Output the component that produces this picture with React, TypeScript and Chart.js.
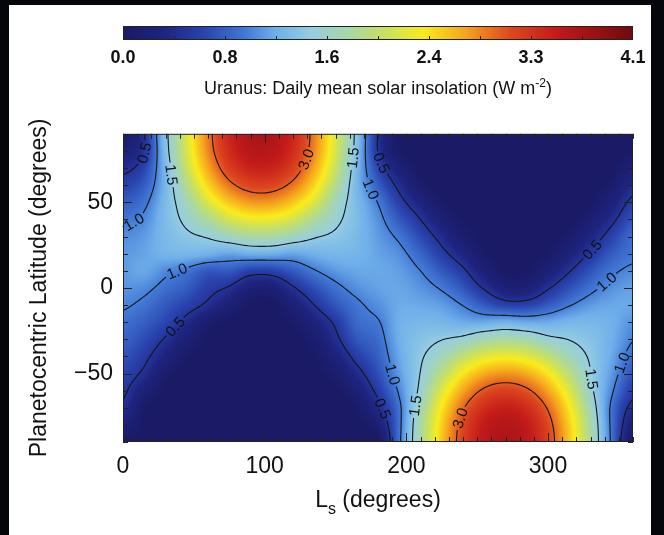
import React, { useEffect, useRef } from 'react';
import { Chart, registerables } from 'chart.js';

Chart.register(...registerables);

const FONT = '"Liberation Sans", Arial, Helvetica, sans-serif';

// Solar longitude of each grid column (degrees)
const lsColumns = [0, 15, 30, 45, 60, 75, 90, 105, 120, 135, 150, 165, 180, 195, 210, 225, 240, 255, 270, 285, 300, 315, 330, 345, 360];
// Planetocentric latitude of each grid row (degrees), north first
const latRows = [90, 80, 70, 60, 50, 40, 30, 20, 10, 0, -10, -20, -30, -40, -50, -60, -70, -80, -90];

// Daily mean insolation (W m^-2) along each latitude row, one value per Ls column
const insolN90 = [0, 0.48, 1.40, 2.22, 2.89, 3.37, 3.62, 3.62, 3.37, 2.89, 2.22, 1.40, 0.48, 0, 0, 0, 0, 0, 0, 0, 0, 0, 0, 0, 0];
const insolN80 = [0.22, 0.49, 1.37, 2.19, 2.85, 3.32, 3.56, 3.56, 3.32, 2.85, 2.19, 1.37, 0.49, 0.04, 0, 0, 0, 0, 0, 0, 0, 0, 0, 0, 0.03];
const insolN70 = [0.42, 0.65, 1.31, 2.09, 2.72, 3.17, 3.40, 3.40, 3.17, 2.72, 2.09, 1.31, 0.65, 0.22, 0, 0, 0, 0, 0, 0, 0, 0, 0, 0, 0.20];
const insolN60 = [0.62, 0.80, 1.29, 1.92, 2.51, 2.92, 3.13, 3.13, 2.92, 2.51, 1.92, 1.29, 0.82, 0.42, 0.10, 0, 0, 0, 0, 0, 0, 0, 0, 0.08, 0.39];
const insolN50 = [0.80, 0.94, 1.32, 1.72, 2.22, 2.58, 2.77, 2.77, 2.58, 2.22, 1.72, 1.32, 0.99, 0.60, 0.30, 0.04, 0, 0, 0, 0, 0, 0, 0.02, 0.25, 0.57];
const insolN40 = [0.95, 1.05, 1.33, 1.58, 1.86, 2.17, 2.32, 2.32, 2.17, 1.86, 1.58, 1.33, 1.08, 0.78, 0.50, 0.20, 0.02, 0, 0, 0, 0, 0, 0.15, 0.43, 0.74];
const insolN30 = [1.06, 1.13, 1.31, 1.44, 1.53, 1.69, 1.81, 1.81, 1.69, 1.53, 1.44, 1.31, 1.13, 0.95, 0.68, 0.40, 0.12, 0, 0, 0, 0, 0.08, 0.33, 0.62, 0.89];
const insolN20 = [1.12, 1.17, 1.27, 1.29, 1.25, 1.18, 1.24, 1.24, 1.18, 1.25, 1.29, 1.27, 1.17, 1.07, 0.85, 0.58, 0.32, 0.03, 0, 0, 0.03, 0.26, 0.53, 0.79, 0.94];
const insolN10 = [1.13, 1.19, 1.06, 0.95, 0.78, 0.79, 0.63, 0.63, 0.79, 0.98, 1.12, 1.19, 1.19, 1.14, 1.00, 0.78, 0.55, 0.21, 0, 0, 0.21, 0.48, 0.74, 0.95, 1.05];
const insolEq = [1.10, 1.06, 0.92, 0.80, 0.60, 0.47, 0.22, 0.22, 0.47, 0.72, 0.93, 1.08, 1.16, 1.18, 1.10, 0.97, 0.76, 0.47, 0.22, 0.22, 0.47, 0.72, 0.93, 1.08, 1.16];
const insolS10 = [1.03, 0.94, 0.78, 0.63, 0.44, 0.21, 0, 0, 0.21, 0.50, 0.76, 0.95, 1.08, 1.20, 1.19, 1.14, 0.99, 0.79, 0.63, 0.63, 0.79, 0.98, 1.12, 1.19, 1.19];
const insolS20 = [0.93, 0.82, 0.66, 0.40, 0.13, 0, 0, 0, 0.05, 0.28, 0.55, 0.88, 0.98, 1.23, 1.29, 1.28, 1.21, 1.20, 1.25, 1.20, 1.21, 1.28, 1.29, 1.23, 1.10];
const insolS30 = [0.84, 0.70, 0.47, 0.20, 0, 0, 0, 0, 0, 0.12, 0.43, 0.76, 0.90, 1.23, 1.39, 1.49, 1.58, 1.76, 1.82, 1.76, 1.58, 1.49, 1.39, 1.23, 1.01];
const insolS40 = [0.74, 0.57, 0.29, 0.05, 0, 0, 0, 0, 0, 0.03, 0.27, 0.59, 0.82, 1.19, 1.46, 1.70, 2.03, 2.26, 2.34, 2.26, 2.03, 1.70, 1.46, 1.19, 0.90];
const insolS50 = [0.64, 0.44, 0.11, 0, 0, 0, 0, 0, 0, 0, 0.11, 0.40, 0.72, 1.13, 1.51, 1.98, 2.42, 2.70, 2.79, 2.70, 2.42, 1.98, 1.51, 1.13, 0.75];
const insolS60 = [0.55, 0.22, 0, 0, 0, 0, 0, 0, 0, 0, 0, 0.22, 0.58, 1.04, 1.58, 2.23, 2.73, 3.05, 3.16, 3.05, 2.73, 2.23, 1.58, 1.04, 0.59];
const insolS70 = [0.45, 0.05, 0, 0, 0, 0, 0, 0, 0, 0, 0, 0.05, 0.40, 0.94, 1.71, 2.42, 2.97, 3.31, 3.43, 3.31, 2.97, 2.42, 1.71, 0.94, 0.40];
const insolS80 = [0.25, 0, 0, 0, 0, 0, 0, 0, 0, 0, 0, 0, 0.20, 0.93, 1.80, 2.54, 3.11, 3.47, 3.59, 3.47, 3.11, 2.54, 1.80, 0.93, 0.20];
const insolS90 = [0, 0, 0, 0, 0, 0, 0, 0, 0, 0, 0, 0, 0, 0.94, 1.82, 2.58, 3.16, 3.52, 3.65, 3.52, 3.16, 2.58, 1.82, 0.94, 0];

const insolationRows = [
  insolN90, insolN80, insolN70, insolN60, insolN50, insolN40, insolN30, insolN20, insolN10,
  insolEq,
  insolS10, insolS20, insolS30, insolS40, insolS50, insolS60, insolS70, insolS80, insolS90,
];

const contourLevels = [0.5, 1.0, 1.5, 3.0];

// Hand-picked spots for the contour labels: [level, Ls, latitude]
const contourLabelSpots = [
  [0.5, 10, 80], [1.0, 8, 38], [1.5, 34, 66], [3.0, 126, 76], [1.5, 162, 76],
  [0.5, 180, 72], [1.0, 176, 58], [1.0, 38, 10], [0.5, 36, -22],
  [0.5, 329, 24], [1.0, 341, 4],
  [1.0, 193, -50], [0.5, 190, -68], [1.5, 208, -69], [3.0, 234, -75],
  [1.5, 333, -53], [1.0, 350, -43],
];

const lsTicks = [0, 100, 200, 300];
const latTicks = [-50, 0, 50];

const colorbarMax = 4.08;
const colorbarTicks = [0, 0.816, 1.632, 2.448, 3.264, 4.08];
const colorbarTickLabels = ['0.0', '0.8', '1.6', '2.4', '3.3', '4.1'];

// blue -> cyan -> yellow -> red colour table
const colorStops = [
  [0.00, 26, 26, 102],
  [0.08, 30, 36, 128],
  [0.16, 42, 68, 176],
  [0.24, 66, 122, 214],
  [0.30, 112, 176, 234],
  [0.37, 150, 206, 226],
  [0.45, 172, 216, 160],
  [0.52, 204, 226, 92],
  [0.59, 250, 236, 28],
  [0.67, 246, 166, 30],
  [0.76, 222, 72, 30],
  [0.85, 196, 26, 26],
  [1.00, 112, 10, 16],
];

function colorFor(t: number): number[] {
  const v = Math.min(1, Math.max(0, t));
  for (let k = 1; k < colorStops.length; k++) {
    const a = colorStops[k - 1], b = colorStops[k];
    if (v <= b[0]) {
      const f = (v - a[0]) / (b[0] - a[0]);
      return [a[1] + (b[1] - a[1]) * f, a[2] + (b[2] - a[2]) * f, a[3] + (b[3] - a[3]) * f];
    }
  }
  const l = colorStops[colorStops.length - 1];
  return [l[1], l[2], l[3]];
}

function catmull(p0: number, p1: number, p2: number, p3: number, t: number) {
  return p1 + 0.5 * t * (p2 - p0 + t * (2 * p0 - 5 * p1 + 4 * p2 - p3 + t * (3 * (p1 - p2) + p3 - p0)));
}

// Smooth (Catmull-Rom) reading of the gridded field at any (Ls, latitude)
function sampleField(ls: number, lat: number) {
  const nx = lsColumns.length, ny = latRows.length;
  const clampI = (i: number) => Math.min(nx - 1, Math.max(0, i));
  const clampJ = (j: number) => Math.min(ny - 1, Math.max(0, j));
  let u = (ls - lsColumns[0]) / (lsColumns[1] - lsColumns[0]);
  let v = (latRows[0] - lat) / (latRows[0] - latRows[1]);
  u = Math.min(nx - 1, Math.max(0, u));
  v = Math.min(ny - 1, Math.max(0, v));
  const i = Math.min(nx - 2, Math.floor(u));
  const j = Math.min(ny - 2, Math.floor(v));
  const tx = u - i, ty = v - j;
  const rowAt = (jj: number) => {
    const r = insolationRows[clampJ(jj)];
    return catmull(r[clampI(i - 1)], r[i], r[i + 1], r[clampI(i + 2)], tx);
  };
  const val = catmull(rowAt(j - 1), rowAt(j), rowAt(j + 1), rowAt(j + 2), ty);
  return Math.max(0, val);
}

function drawRichText(ctx: any, parts: any[], cx: number, baseY: number) {
  let total = 0;
  for (const p of parts) {
    ctx.font = `${p.size}px ${FONT}`;
    total += ctx.measureText(p.text).width;
  }
  let xPos = cx - total / 2;
  ctx.textAlign = 'left';
  ctx.textBaseline = 'alphabetic';
  for (const p of parts) {
    ctx.font = `${p.size}px ${FONT}`;
    ctx.fillText(p.text, xPos, baseY + p.dy);
    xPos += ctx.measureText(p.text).width;
  }
}

const LABEL_FONT = `15px ${FONT}`;

const fieldPlugin = {
  id: 'insolationField',
  beforeDatasetsDraw(chart: any) {
    const { ctx, chartArea: a, scales } = chart;
    const xs = scales.x, ys = scales.y;
    const w = Math.round(a.right - a.left), h = Math.round(a.bottom - a.top);

    // colour field
    const off = document.createElement('canvas');
    off.width = w; off.height = h;
    const octx = off.getContext('2d') as CanvasRenderingContext2D;
    const img = octx.createImageData(w, h);
    for (let py = 0; py < h; py++) {
      const lat = ys.getValueForPixel(a.top + py + 0.5);
      for (let px = 0; px < w; px++) {
        const ls = xs.getValueForPixel(a.left + px + 0.5);
        const c = colorFor(sampleField(ls, lat) / colorbarMax);
        const k = (py * w + px) * 4;
        img.data[k] = c[0]; img.data[k + 1] = c[1]; img.data[k + 2] = c[2]; img.data[k + 3] = 255;
      }
    }
    octx.putImageData(img, 0, 0);
    ctx.drawImage(off, a.left, a.top);

    // contour lines by marching squares on a fine resampling
    const NX = 180, NY = 120;
    const gx: number[] = [], gy: number[] = [];
    const vals: number[][] = [];
    for (let i = 0; i <= NX; i++) gx.push(xs.getPixelForValue((360 * i) / NX));
    for (let j = 0; j <= NY; j++) {
      const lat = 90 - (180 * j) / NY;
      gy.push(ys.getPixelForValue(lat));
      const row: number[] = [];
      for (let i = 0; i <= NX; i++) row.push(sampleField((360 * i) / NX, lat));
      vals.push(row);
    }
    const segsByLevel: any = {};
    for (const L of contourLevels) {
      const segs: number[][] = [];
      for (let j = 0; j < NY; j++) {
        for (let i = 0; i < NX; i++) {
          const va = vals[j][i], vb = vals[j][i + 1], vc = vals[j + 1][i + 1], vd = vals[j + 1][i];
          const pa = [gx[i], gy[j]], pb = [gx[i + 1], gy[j]], pc = [gx[i + 1], gy[j + 1]], pd = [gx[i], gy[j + 1]];
          const edges = [[va, vb, pa, pb], [vb, vc, pb, pc], [vc, vd, pc, pd], [vd, va, pd, pa]];
          const pts: any[] = [null, null, null, null];
          let n = 0;
          edges.forEach((e: any, k) => {
            const s1 = e[0] >= L, s2 = e[1] >= L;
            if (s1 !== s2) {
              const t = (L - e[0]) / (e[1] - e[0]);
              pts[k] = [e[2][0] + (e[3][0] - e[2][0]) * t, e[2][1] + (e[3][1] - e[2][1]) * t];
              n++;
            }
          });
          if (n === 2) {
            const p = pts.filter((q) => q);
            segs.push([p[0][0], p[0][1], p[1][0], p[1][1]]);
          } else if (n === 4) {
            const center = (va + vb + vc + vd) / 4;
            if ((center >= L) === (va >= L)) {
              segs.push([pts[0][0], pts[0][1], pts[1][0], pts[1][1]]);
              segs.push([pts[2][0], pts[2][1], pts[3][0], pts[3][1]]);
            } else {
              segs.push([pts[3][0], pts[3][1], pts[0][0], pts[0][1]]);
              segs.push([pts[1][0], pts[1][1], pts[2][0], pts[2][1]]);
            }
          }
        }
      }
      segsByLevel[L] = segs;
    }

    // label placement: snap each spot onto its contour and follow the line direction
    ctx.font = LABEL_FONT;
    const labels: any[] = [];
    for (const spot of contourLabelSpots) {
      const [level, ls, lat] = spot;
      const segs = segsByLevel[level];
      if (!segs || !segs.length) continue;
      const hx = xs.getPixelForValue(ls), hy = ys.getPixelForValue(lat);
      let best: any = null, bd = Infinity;
      for (const s of segs) {
        const dx = s[2] - s[0], dy = s[3] - s[1];
        const len2 = dx * dx + dy * dy || 1e-9;
        let t = ((hx - s[0]) * dx + (hy - s[1]) * dy) / len2;
        t = Math.max(0, Math.min(1, t));
        const qx = s[0] + dx * t, qy = s[1] + dy * t;
        const d = (qx - hx) ** 2 + (qy - hy) ** 2;
        if (d < bd) { bd = d; best = { x: qx, y: qy, dx, dy }; }
      }
      let sx = 0, sy = 0;
      for (const s of segs) {
        const mx = (s[0] + s[2]) / 2, my = (s[1] + s[3]) / 2;
        if ((mx - best.x) ** 2 + (my - best.y) ** 2 < 110) {
          let vx = s[2] - s[0], vy = s[3] - s[1];
          if (vx * best.dx + vy * best.dy < 0) { vx = -vx; vy = -vy; }
          sx += vx; sy += vy;
        }
      }
      let ang = Math.atan2(sy, sx);
      if (ang > Math.PI / 2) ang -= Math.PI;
      if (ang <= -Math.PI / 2) ang += Math.PI;
      const text = level.toFixed(1);
      labels.push({ x: best.x, y: best.y, ang, text, hw: ctx.measureText(text).width / 2 + 2 });
    }

    ctx.save();
    ctx.beginPath();
    ctx.rect(a.left, a.top, a.right - a.left, a.bottom - a.top);
    for (const lb of labels) {
      const c = Math.cos(lb.ang), s = Math.sin(lb.ang), hh = 6;
      const corners = [[-lb.hw, -hh], [lb.hw, -hh], [lb.hw, hh], [-lb.hw, hh]].map(([u, v]) => [lb.x + u * c - v * s, lb.y + u * s + v * c]);
      ctx.moveTo(corners[0][0], corners[0][1]);
      for (let k = 1; k < 4; k++) ctx.lineTo(corners[k][0], corners[k][1]);
      ctx.closePath();
    }
    ctx.clip('evenodd');
    ctx.beginPath();
    for (const L of contourLevels) {
      for (const s of segsByLevel[L]) {
        ctx.moveTo(s[0], s[1]);
        ctx.lineTo(s[2], s[3]);
      }
    }
    ctx.strokeStyle = '#151515';
    ctx.lineWidth = 1.1;
    ctx.lineCap = 'round';
    ctx.stroke();
    ctx.restore();

    ctx.save();
    ctx.fillStyle = '#111';
    ctx.font = LABEL_FONT;
    ctx.textAlign = 'center';
    ctx.textBaseline = 'middle';
    for (const lb of labels) {
      ctx.save();
      ctx.translate(lb.x, lb.y);
      ctx.rotate(lb.ang);
      ctx.fillText(lb.text, 0, 1);
      ctx.restore();
    }
    ctx.restore();
  },
  afterDatasetsDraw(chart: any) {
    const { ctx, chartArea: a, scales } = chart;
    const xs = scales.x, ys = scales.y;
    ctx.save();
    ctx.strokeStyle = '#222';
    ctx.lineWidth = 1;
    ctx.beginPath();
    for (let v = 0; v <= 360; v += 10) {
      const px = Math.round(xs.getPixelForValue(v)) + 0.5;
      const len = v % 100 === 0 ? 9 : 5;
      ctx.moveTo(px, a.bottom); ctx.lineTo(px, a.bottom - len);
      ctx.moveTo(px, a.top); ctx.lineTo(px, a.top + len);
    }
    for (let v = -90; v <= 90; v += 10) {
      const py = Math.round(ys.getPixelForValue(v)) + 0.5;
      const len = v % 50 === 0 ? 9 : 5;
      ctx.moveTo(a.left, py); ctx.lineTo(a.left + len, py);
      ctx.moveTo(a.right, py); ctx.lineTo(a.right - len, py);
    }
    ctx.stroke();
    ctx.strokeRect(a.left + 0.5, a.top + 0.5, a.right - a.left - 1, a.bottom - a.top - 1);
    ctx.restore();
  },
  afterDraw(chart: any) {
    const { ctx, chartArea: a } = chart;
    ctx.save();
    ctx.fillStyle = '#111';
    drawRichText(ctx, [
      { text: 'L', size: 23, dy: 0 },
      { text: 's', size: 16, dy: 7 },
      { text: ' (degrees)', size: 23, dy: 0 },
    ], (a.left + a.right) / 2, 397);
    ctx.translate(40, (a.top + a.bottom) / 2);
    ctx.rotate(-Math.PI / 2);
    ctx.font = `23px ${FONT}`;
    ctx.textAlign = 'center';
    ctx.textBaseline = 'middle';
    ctx.fillText('Planetocentric Latitude (degrees)', 0, 0);
    ctx.restore();
  },
};

const colorbarPlugin = {
  id: 'insolationColorbar',
  beforeDatasetsDraw(chart: any) {
    const { ctx, chartArea: a, scales } = chart;
    const xs = scales.x;
    ctx.save();
    for (let px = Math.floor(a.left); px < a.right; px++) {
      const c = colorFor(xs.getValueForPixel(px + 0.5) / colorbarMax);
      ctx.fillStyle = `rgb(${c[0] | 0},${c[1] | 0},${c[2] | 0})`;
      ctx.fillRect(px, a.top, 1, a.bottom - a.top);
    }
    ctx.strokeStyle = '#222';
    ctx.lineWidth = 1;
    ctx.strokeRect(a.left + 0.5, a.top + 0.5, a.right - a.left - 1, a.bottom - a.top - 1);
    ctx.beginPath();
    for (let k = 1; k < 10; k++) {
      const px = Math.round(xs.getPixelForValue((colorbarMax * k) / 10)) + 0.5;
      ctx.moveTo(px, a.bottom);
      ctx.lineTo(px, a.bottom - 4);
    }
    ctx.stroke();
    ctx.restore();
  },
  afterDraw(chart: any) {
    const { ctx, chartArea: a } = chart;
    ctx.save();
    ctx.fillStyle = '#111';
    drawRichText(ctx, [
      { text: 'Uranus: Daily mean solar insolation (W m', size: 18, dy: 0 },
      { text: '-2', size: 12, dy: -7 },
      { text: ')', size: 18, dy: 0 },
    ], (a.left + a.right) / 2, 94);
    ctx.restore();
  },
};

export default function App() {
  const mainRef = useRef<HTMLCanvasElement>(null);
  const barRef = useRef<HTMLCanvasElement>(null);

  useEffect(() => {
    const tickFont = { family: FONT, size: 23 };
    const main = new Chart(mainRef.current as HTMLCanvasElement, {
      type: 'scatter',
      data: { datasets: [] },
      options: {
        responsive: false,
        animation: false,
        devicePixelRatio: 1,
        events: [],
        layout: { padding: { top: 14, right: 31, left: 0, bottom: 0 } },
        plugins: { legend: { display: false }, tooltip: { enabled: false } },
        scales: {
          x: {
            type: 'linear', min: 0, max: 360, position: 'bottom',
            afterBuildTicks: (s: any) => { s.ticks = lsTicks.map((v) => ({ value: v })); },
            afterFit: (s: any) => { s.height = 93; },
            grid: { display: false, drawTicks: false },
            border: { display: false },
            ticks: { padding: 11, autoSkip: false, maxRotation: 0, color: '#111', font: tickFont, callback: (v: any) => String(v) },
          },
          y: {
            type: 'linear', min: -90, max: 90, position: 'left',
            afterBuildTicks: (s: any) => { s.ticks = latTicks.map((v) => ({ value: v })); },
            afterFit: (s: any) => { s.width = 123; },
            grid: { display: false, drawTicks: false },
            border: { display: false },
            ticks: { padding: 10, autoSkip: false, color: '#111', font: tickFont, callback: (v: any) => (v < 0 ? '\u2212' + Math.abs(v) : String(v)) },
          },
        },
      } as any,
      plugins: [fieldPlugin],
    });

    const bar = new Chart(barRef.current as HTMLCanvasElement, {
      type: 'scatter',
      data: { datasets: [] },
      options: {
        responsive: false,
        animation: false,
        devicePixelRatio: 1,
        events: [],
        layout: { padding: { top: 26, right: 31, left: 123, bottom: 0 } },
        plugins: { legend: { display: false }, tooltip: { enabled: false } },
        scales: {
          x: {
            type: 'linear', min: 0, max: colorbarMax, position: 'bottom',
            afterBuildTicks: (s: any) => { s.ticks = colorbarTicks.map((v) => ({ value: v })); },
            afterFit: (s: any) => { s.height = 70; },
            grid: { display: false, drawTicks: false },
            border: { display: false },
            ticks: {
              padding: 7, autoSkip: false, maxRotation: 0, color: '#111',
              font: { family: FONT, size: 18, weight: 'bold' },
              callback: (_v: any, i: number) => colorbarTickLabels[i],
            },
          },
          y: { display: false, min: 0, max: 1 },
        },
      } as any,
      plugins: [colorbarPlugin],
    });

    return () => {
      main.destroy();
      bar.destroy();
    };
  }, []);

  return (
    <div style={{ position: 'fixed', left: 0, top: 0, width: 664, height: 535, background: '#05050c', overflow: 'hidden' }}>
      <div style={{ position: 'absolute', left: 9, top: 5, width: 642, height: 530, background: '#ffffff' }} />
      <div style={{ position: 'absolute', left: 0, top: 0, width: 664, height: 110 }}>
        <canvas ref={barRef} width={664} height={110} style={{ display: 'block' }} />
      </div>
      <div style={{ position: 'absolute', left: 0, top: 110, width: 664, height: 425 }}>
        <canvas ref={mainRef} width={664} height={425} style={{ display: 'block' }} />
      </div>
    </div>
  );
}
